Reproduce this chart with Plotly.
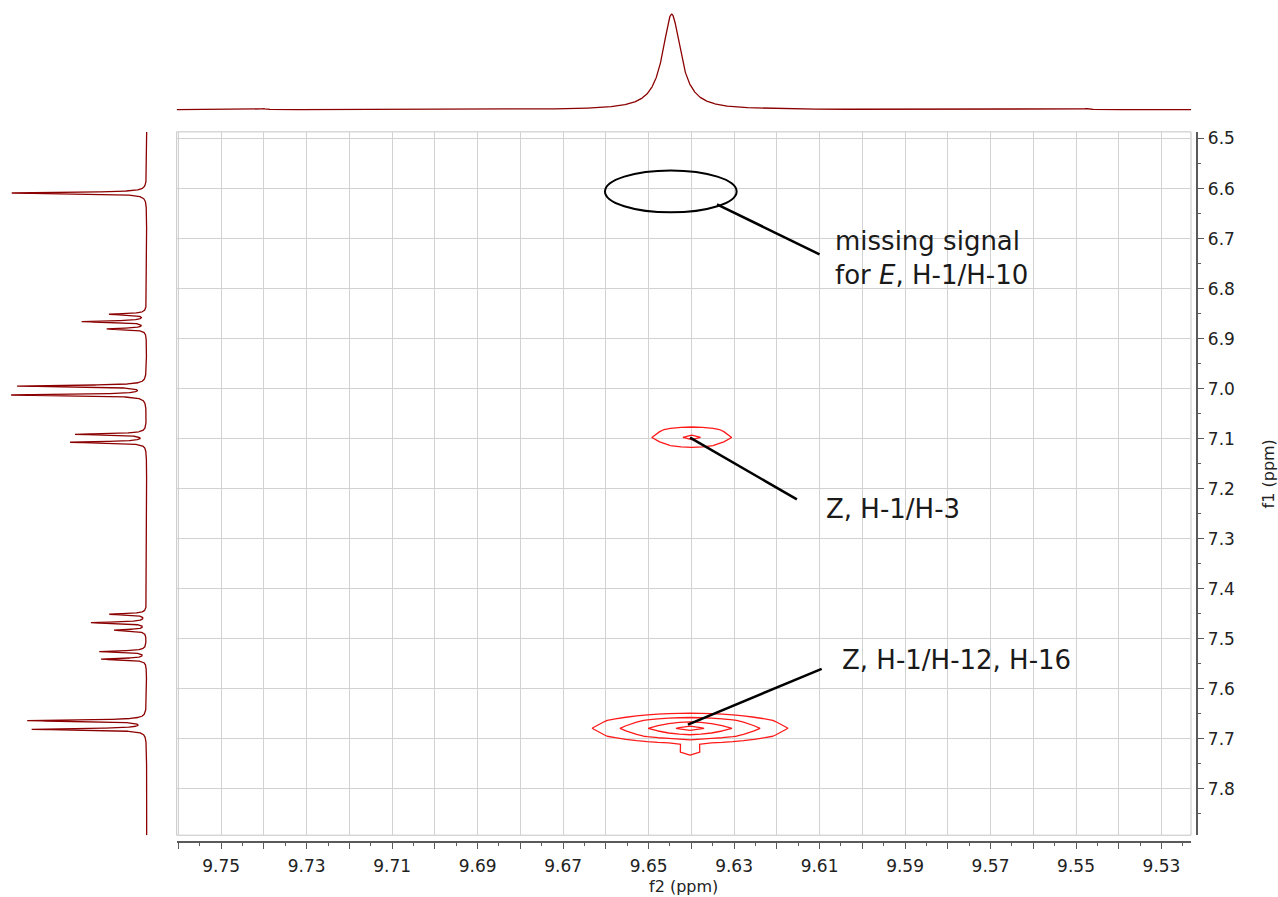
import numpy as np
import plotly.graph_objects as go

W, H = 1278, 897

# ---------------- data ----------------
# f2 (horizontal) 1D projection: peak position (ppm), relative height, half width (ppm)
f2_peak_pos = [9.6446, 9.7402, 9.5475]
f2_peak_height = [1.03, 0.012, 0.012]
f2_peak_hw = [0.00257, 0.0006, 0.0006]

# f1 (vertical) 1D projection
f1_peak_pos = [6.6089, 6.8512, 6.8659, 6.8805, 6.9947, 7.0126, 7.0911, 7.1070,
               7.4508, 7.4676, 7.4827, 7.5253, 7.5405, 7.6634, 7.6807]
f1_peak_height = [1.0, 0.272, 0.474, 0.289, 0.951, 0.996, 0.524, 0.561,
                  0.272, 0.407, 0.235, 0.346, 0.333, 0.877, 0.844]
f1_peak_hw = 0.0017

# cross peak Z, H-1/H-12, H-16 : sampled grid (f2, f1) and log2 intensity
cp1_f2 = [9.6153, 9.6178, 9.6203, 9.6228, 9.6253, 9.6278, 9.6303, 9.6328, 9.6353, 9.6378, 9.6403,
          9.6428, 9.6453, 9.6478, 9.6503, 9.6528, 9.6553, 9.6578, 9.6603, 9.6628, 9.6653]
cp1_f1 = [7.6310, 7.6469, 7.6628, 7.6787, 7.6946, 7.7105, 7.7264, 7.7423]
cp1_z = [
    [-3.5, -3.3, -3.1, -2.9, -2.7, -2.5, -2.4, -2.3, -2.2, -2.1, -2.1, -2.1, -2.2, -2.3, -2.4, -2.5, -2.7, -2.9, -3.1, -3.3, -3.5],
    [-1.83, -1.57, -1.32, -1.08, -0.87, -0.68, -0.52, -0.39, -0.30, -0.24, -0.20, -0.24, -0.30, -0.39, -0.52, -0.68, -0.87, -1.08, -1.32, -1.57, -1.83],
    [-0.75, -0.41, -0.08, 0.24, 0.55, 0.83, 1.09, 1.32, 1.49, 1.60, 1.66, 1.60, 1.49, 1.32, 1.09, 0.83, 0.55, 0.24, -0.08, -0.41, -0.75],
    [-0.32, 0.06, 0.44, 0.83, 1.21, 1.59, 1.97, 2.35, 2.74, 3.12, 3.50, 3.12, 2.74, 2.35, 1.97, 1.59, 1.21, 0.83, 0.44, 0.06, -0.32],
    [-0.75, -0.41, -0.08, 0.24, 0.55, 0.83, 1.09, 1.32, 1.49, 1.60, 1.66, 1.60, 1.49, 1.32, 1.09, 0.83, 0.55, 0.24, -0.08, -0.41, -0.75],
    [-1.83, -1.57, -1.32, -1.08, -0.87, -0.68, -0.52, -0.39, -0.30, -0.03, 0.25, -0.03, -0.30, -0.39, -0.52, -0.68, -0.87, -1.08, -1.32, -1.57, -1.83],
    [-3.5, -3.3, -3.1, -2.9, -2.7, -2.5, -2.4, -2.3, -2.2, -0.03, 0.30, -0.03, -2.2, -2.3, -2.4, -2.5, -2.7, -2.9, -3.1, -3.3, -3.5],
    [-4.8, -4.6, -4.4, -4.3, -4.2, -4.1, -4.0, -3.9, -3.9, -1.5, -0.5, -1.5, -3.9, -3.9, -4.0, -4.1, -4.2, -4.3, -4.4, -4.6, -4.8],
]

# cross peak Z, H-1/H-3
cp2_f2 = [9.6274, 9.6299, 9.6324, 9.6349, 9.6374, 9.6399, 9.6424, 9.6449, 9.6474, 9.6499, 9.6524]
cp2_f1 = [7.0657, 7.0816, 7.0975, 7.1134, 7.1293]
cp2_z = [
    [-1.35, -1.15, -0.97, -0.84, -0.75, -0.72, -0.75, -0.84, -0.97, -1.15, -1.35],
    [-0.64, -0.35, -0.09, 0.13, 0.28, 0.34, 0.28, 0.13, -0.09, -0.35, -0.64],
    [-0.43, -0.09, 0.25, 0.60, 0.94, 1.28, 0.94, 0.60, 0.25, -0.09, -0.43],
    [-0.76, -0.47, -0.21, 0.01, 0.16, 0.22, 0.16, 0.01, -0.21, -0.47, -0.76],
    [-1.35, -1.15, -0.97, -0.84, -0.75, -0.72, -0.75, -0.84, -0.97, -1.15, -1.35],
]

# axis ticks
x_tickvals = [9.76, 9.75, 9.74, 9.73, 9.72, 9.71, 9.70, 9.69, 9.68, 9.67, 9.66, 9.65,
              9.64, 9.63, 9.62, 9.61, 9.60, 9.59, 9.58, 9.57, 9.56, 9.55, 9.54, 9.53]
x_ticktext = ["", "9.75", "", "9.73", "", "9.71", "", "9.69", "", "9.67", "", "9.65",
              "", "9.63", "", "9.61", "", "9.59", "", "9.57", "", "9.55", "", "9.53"]
y_tickvals = [6.5, 6.6, 6.7, 6.8, 6.9, 7.0, 7.1, 7.2, 7.3, 7.4, 7.5, 7.6, 7.7, 7.8]
y_ticktext = ["6.5", "6.6", "6.7", "6.8", "6.9", "7.0", "7.1", "7.2", "7.3", "7.4",
              "7.5", "7.6", "7.7", "7.8"]

X_RANGE = [9.7604, 9.5231]
Y_RANGE = [7.8924, 6.4867]

# ---------------- spectra (Lorentzian lines from peak lists) ----------------
x_top = np.linspace(X_RANGE[0], X_RANGE[1], 3000)
y_top = np.zeros_like(x_top)
for p, h, w in zip(f2_peak_pos, f2_peak_height, f2_peak_hw):
    y_top += h * w**2 / ((x_top - p) ** 2 + w**2)

y_left = np.linspace(Y_RANGE[1], Y_RANGE[0], 16000)
x_left = np.zeros_like(y_left)
for p, h in zip(f1_peak_pos, f1_peak_height):
    x_left += h * f1_peak_hw**2 / ((y_left - p) ** 2 + f1_peak_hw**2)

SPEC = "#8b0000"
RED = "#ff1a1a"
FONT = "DejaVu Sans"

fig = go.Figure()

for fx, fy, fz in [(cp1_f2, cp1_f1, cp1_z), (cp2_f2, cp2_f1, cp2_z)]:
    fig.add_trace(go.Contour(
        x=fx, y=fy, z=fz, xaxis="x", yaxis="y",
        contours=dict(start=0, end=3, size=1, coloring="lines"),
        colorscale=[[0, RED], [1, RED]],
        line=dict(width=1.3, smoothing=0),
        showscale=False, hoverinfo="skip",
    ))

fig.add_trace(go.Scatter(x=x_top, y=y_top, xaxis="x2", yaxis="y2", mode="lines",
                         line=dict(color=SPEC, width=1.3), hoverinfo="skip"))
fig.add_trace(go.Scatter(x=x_left, y=y_left, xaxis="x3", yaxis="y3", mode="lines",
                         line=dict(color=SPEC, width=1.3), hoverinfo="skip"))

# ---------------- layout ----------------
def px_x(p):
    return p / W

def px_y(p):
    return 1 - p / H

XD = [px_x(176.7), px_x(1191)]
YD = [px_y(835), px_y(129.3)]

AXC = "#5a5a5a"
GRID = "#d2d2d2"

fig.update_layout(
    width=W, height=H, autosize=False,
    margin=dict(l=0, r=0, t=0, b=0),
    paper_bgcolor="white", plot_bgcolor="white",
    showlegend=False,
    font=dict(family=FONT, color="#222222"),
    xaxis=dict(
        domain=XD, range=X_RANGE, anchor="free", position=px_y(841.7),
        tickmode="array", tickvals=x_tickvals, ticktext=x_ticktext,
        ticks="outside", ticklen=6, tickwidth=1.3, tickcolor=AXC,
        showline=True, linecolor=AXC, linewidth=1.5,
        showgrid=True, gridcolor=GRID, gridwidth=1, zeroline=False,
        tickfont=dict(family=FONT, size=17, color="#222222"),
        ticklabelstandoff=3,
        minor=dict(tickmode="linear", tick0=9.755, dtick=0.01, ticks="outside",
                   ticklen=3, tickcolor=AXC, tickwidth=1.2, showgrid=False),
    ),
    yaxis=dict(
        domain=YD, range=Y_RANGE, anchor="free", position=px_x(1196.7), side="right",
        tickmode="array", tickvals=y_tickvals, ticktext=y_ticktext,
        ticks="outside", ticklen=7, tickwidth=1.3, tickcolor=AXC,
        showline=True, linecolor=AXC, linewidth=1.5,
        showgrid=True, gridcolor=GRID, gridwidth=1, zeroline=False,
        tickfont=dict(family=FONT, size=17, color="#222222"),
        minor=dict(tickmode="linear", tick0=6.55, dtick=0.1, ticks="outside",
                   ticklen=4, tickcolor=AXC, tickwidth=1.2, showgrid=False),
    ),
    xaxis2=dict(domain=XD, range=X_RANGE, anchor="y2", visible=False),
    yaxis2=dict(domain=[px_y(115), 1], range=[-0.086, 1.1505], anchor="x2", visible=False),
    xaxis3=dict(domain=[0, px_x(160)], range=[1.0867, -0.0985], anchor="y3", visible=False),
    yaxis3=dict(domain=YD, range=Y_RANGE, anchor="x3", visible=False),
)

shapes = [
    dict(type="rect", xref="paper", yref="paper", x0=XD[0], x1=XD[1], y0=YD[0], y1=YD[1],
         line=dict(color="#c4c4c4", width=1), layer="below"),
    dict(type="circle", xref="x", yref="y", x0=9.6602, x1=9.6294, y0=6.5638, y1=6.6475,
         line=dict(color="black", width=2)),
    dict(type="line", xref="x", yref="y", x0=9.6340, y0=6.6315, x1=9.6100, y1=6.7315,
         line=dict(color="black", width=2.5)),
    dict(type="line", xref="x", yref="y", x0=9.6403, y0=7.0977, x1=9.6153, y1=7.2212,
         line=dict(color="black", width=2.5)),
    dict(type="line", xref="x", yref="y", x0=9.6408, y0=7.6714, x1=9.6095, y1=7.5598,
         line=dict(color="black", width=2.5)),
]
fig.update_layout(shapes=shapes)

ann_font = dict(family=FONT, size=26, color="#1a1a1a")
annotations = [
    dict(text="missing signal<br>for <i>E</i>, H-1/H-10", xref="paper", yref="paper",
         x=px_x(833), y=px_y(256), xanchor="left", yanchor="middle", align="left",
         showarrow=False, font=ann_font),
    dict(text="Z, H-1/H-3", xref="paper", yref="paper",
         x=px_x(824), y=px_y(508), xanchor="left", yanchor="middle",
         showarrow=False, font=ann_font),
    dict(text="Z, H-1/H-12, H-16", xref="paper", yref="paper",
         x=px_x(840), y=px_y(659), xanchor="left", yanchor="middle",
         showarrow=False, font=ann_font),
    dict(text="f2 (ppm)", xref="paper", yref="paper",
         x=px_x(684), y=px_y(886), xanchor="center", yanchor="middle",
         showarrow=False, font=dict(family=FONT, size=16, color="#222222")),
    dict(text="f1 (ppm)", xref="paper", yref="paper", textangle=-90,
         x=px_x(1268), y=px_y(473), xanchor="center", yanchor="middle",
         showarrow=False, font=dict(family=FONT, size=16, color="#222222")),
]
fig.update_layout(annotations=annotations)

fig.write_html(
    "out.html",
    config={"displayModeBar": False},
    post_script="document.body.style.margin='0';document.body.style.overflow='hidden';",
)
